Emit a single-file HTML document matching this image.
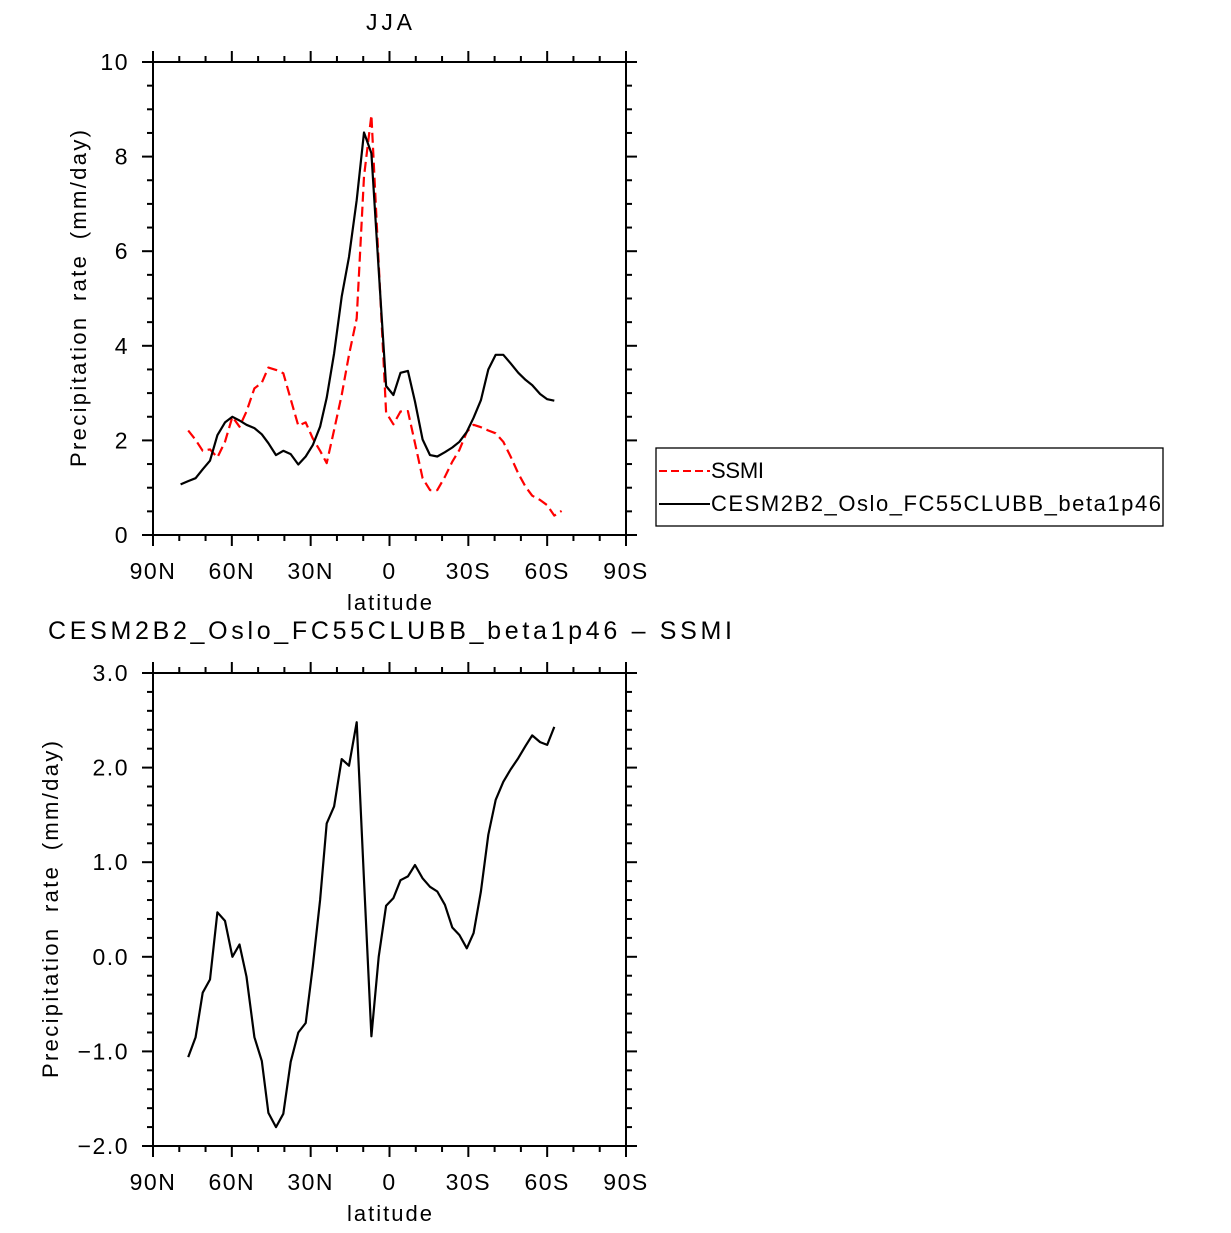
<!DOCTYPE html>
<html><head><meta charset="utf-8"><style>
body{margin:0;background:#fff;}
svg{display:block;font-family:"Liberation Sans",sans-serif;}
</style></head><body>
<svg id="c" width="1231" height="1233" viewBox="0 0 1231 1233"></svg>
<script>
const topBlackLat=[79.5,76.6,73.8,71.1,68.3,65.5,62.6,59.8,57.1,54.4,51.4,48.6,46.1,43.2,40.4,37.6,34.7,31.9,29.2,26.4,23.9,21.1,18.2,15.4,12.5,9.7,6.9,4.1,1.3,-1.5,-4.2,-7.0,-9.7,-12.6,-15.4,-18.2,-21.1,-23.9,-26.6,-29.4,-32.0,-34.8,-37.6,-40.4,-43.3,-46.1,-49.0,-51.8,-54.3,-57.3,-60.0,-62.7];
const topBlackVal=[1.07,1.14,1.20,1.39,1.57,2.11,2.38,2.50,2.42,2.33,2.26,2.13,1.94,1.69,1.78,1.71,1.49,1.66,1.90,2.29,2.90,3.84,5.04,5.88,7.08,8.51,8.07,5.6,3.15,2.96,3.43,3.47,2.82,2.02,1.69,1.66,1.75,1.85,1.97,2.18,2.48,2.85,3.50,3.81,3.81,3.63,3.43,3.28,3.17,2.98,2.87,2.84];
const ssmiLat=[76.6,73.8,71.1,68.3,65.5,62.6,59.8,57.1,54.4,51.4,48.6,46.1,43.2,40.4,37.6,34.7,31.9,29.2,26.4,23.9,21.1,18.2,15.4,12.5,9.7,6.9,4.1,1.3,-1.5,-4.2,-7.0,-9.7,-12.6,-15.4,-18.2,-21.1,-23.9,-26.6,-29.4,-32.0,-34.8,-37.6,-40.4,-43.3,-46.1,-49.0,-51.8,-54.3,-57.3,-60.0,-62.7,-65.5];
const ssmiVal=[2.21,2.01,1.78,1.81,1.64,1.97,2.50,2.29,2.61,3.10,3.22,3.54,3.49,3.42,2.87,2.31,2.38,2.04,1.78,1.52,2.22,2.96,3.81,4.58,7.58,8.88,5.74,2.59,2.34,2.61,2.62,1.94,1.20,0.95,0.95,1.23,1.55,1.80,2.18,2.33,2.28,2.21,2.15,1.97,1.66,1.30,1.02,0.83,0.74,0.63,0.41,0.51];
const diffLat=[76.6,73.8,71.1,68.3,65.5,62.6,59.8,57.1,54.4,51.4,48.6,46.1,43.2,40.4,37.6,34.7,31.9,29.2,26.4,23.9,21.1,18.2,15.4,12.5,9.7,6.9,4.1,1.3,-1.5,-4.2,-7.0,-9.7,-12.6,-15.4,-18.2,-21.1,-23.9,-26.6,-29.4,-32.0,-34.8,-37.6,-40.4,-43.3,-46.1,-49.0,-51.8,-54.3,-57.3,-60.0,-62.7];
const diffVal=[-1.06,-0.85,-0.38,-0.24,0.47,0.38,0.00,0.13,-0.21,-0.85,-1.10,-1.65,-1.80,-1.66,-1.11,-0.80,-0.70,-0.10,0.60,1.41,1.59,2.09,2.02,2.48,0.81,-0.84,0.00,0.54,0.62,0.81,0.85,0.97,0.83,0.74,0.69,0.55,0.31,0.23,0.09,0.25,0.69,1.29,1.66,1.85,1.98,2.10,2.23,2.34,2.27,2.24,2.43];
const xTickVals=[90,60,30,0,-30,-60,-90];
const xTickLabels=["90N","60N","30N","0","30S","60S","90S"];
const topYTicks=[0,2,4,6,8,10];
const topYLabels=["0","2","4","6","8","10"];
const botYTicks=[-2,-1,0,1,2,3];
const botYLabels=["\u22122.0","\u22121.0","0.0","1.0","2.0","3.0"];

const NS="http://www.w3.org/2000/svg";
const svg=document.getElementById('c');
function mk(tag,attrs,parent){const e=document.createElementNS(NS,tag);for(const k in attrs)e.setAttribute(k,attrs[k]);(parent||svg).appendChild(e);return e;}
const X0=153,X1=626;
function xs(lat){return X0+(90-lat)/180*(X1-X0);}

function panel(name,yTop,yBot,ymin,ymax,yTicks,yLabels,minorStep,ylabelX){
  const g=mk('g',{});
  
  
  const ys=v=>yBot-(v-ymin)/(ymax-ymin)*(yBot-yTop);
  const ax=mk('g',{stroke:'#000','stroke-width':2,fill:'none'},g);
  
  
  mk('rect',{x:X0,y:yTop,width:X1-X0,height:yBot-yTop},ax);
  for(let l=90;l>=-90;l-=10){
    const x=xs(l),len=(l%30===0)?11:6;
    mk('line',{x1:x,y1:yBot,x2:x,y2:yBot+len},ax);
    mk('line',{x1:x,y1:yTop,x2:x,y2:yTop-len},ax);
  }
  for(let v=ymin;v<=ymax+1e-9;v+=minorStep){
    const y=ys(v);const maj=yTicks.some(t=>Math.abs(t-v)<1e-6);const len=maj?11:6;
    mk('line',{x1:X0,y1:y,x2:X0-len,y2:y},ax);
    mk('line',{x1:X1,y1:y,x2:X1+len,y2:y},ax);
  }
  xTickVals.forEach((l,i)=>{
    const t=mk('text',{x:xs(l),y:yBot+44,'font-size':23,'text-anchor':'middle','letter-spacing':'1.5'},g);
    t.textContent=xTickLabels[i];
    
    
  });
  yTicks.forEach((v,i)=>{
    const t=mk('text',{x:129,y:ys(v)+8,'font-size':23,'text-anchor':'end','letter-spacing':'1.5'},g);
    t.textContent=yLabels[i];
    
    
  });
  const xt=mk('text',{x:347,y:yBot+75,'font-size':22,textLength:85,lengthAdjust:'spacing'},g);
  xt.textContent='latitude';
  
  
  const cy=(yTop+yBot)/2;
  const yt=mk('text',{x:cy,y:0,'font-size':22,'text-anchor':'middle',textLength:337,lengthAdjust:'spacing',transform:`translate(${ylabelX},${2*cy}) rotate(-90)`,'word-spacing':'6'},g);
  yt.setAttribute('x',cy);
  yt.textContent='Precipitation rate (mm/day)';
  
  
  return ys;
}
function line(lats,vals,ys,color,dash,name){
  const p=lats.map((l,i)=>xs(l).toFixed(1)+','+ys(vals[i]).toFixed(1)).join(' ');
  const a={points:p,fill:'none',stroke:color,'stroke-width':2.2,'stroke-linejoin':'round'};
  if(dash)a['stroke-dasharray']=dash;
  const e=mk('polyline',a);
  
  
}
const ys1=panel('top-panel',62,535,0,10,topYTicks,topYLabels,0.5,86);
line(ssmiLat,ssmiVal,ys1,'#ff0000','10,5','ssmi-line');
line(topBlackLat,topBlackVal,ys1,'#000','', 'cesm-line');
const ys2=panel('bottom-panel',673,1146,-2,3,botYTicks,botYLabels,0.2,58);
line(diffLat,diffVal,ys2,'#000','','difference-line');

let t=mk('text',{x:366,y:30,'font-size':23,textLength:46,lengthAdjust:'spacing'});t.textContent='JJA';


t=mk('text',{x:48,y:639,'font-size':25,textLength:684,lengthAdjust:'spacing'});t.textContent='CESM2B2_Oslo_FC55CLUBB_beta1p46 \u2013 SSMI';



const lg=mk('g',{});


mk('rect',{x:656,y:448,width:507,height:78,fill:'none',stroke:'#000','stroke-width':1.3},lg);
mk('line',{x1:659,y1:471,x2:710,y2:471,stroke:'#ff0000','stroke-width':2,'stroke-dasharray':'8,4'},lg);
mk('line',{x1:659,y1:504,x2:710,y2:504,stroke:'#000','stroke-width':2},lg);
t=mk('text',{x:711,y:478,'font-size':22,textLength:53,lengthAdjust:'spacing'},lg);t.textContent='SSMI';


t=mk('text',{x:711,y:511,'font-size':22,textLength:450,lengthAdjust:'spacing'},lg);t.textContent='CESM2B2_Oslo_FC55CLUBB_beta1p46';


</script>
</body></html>
